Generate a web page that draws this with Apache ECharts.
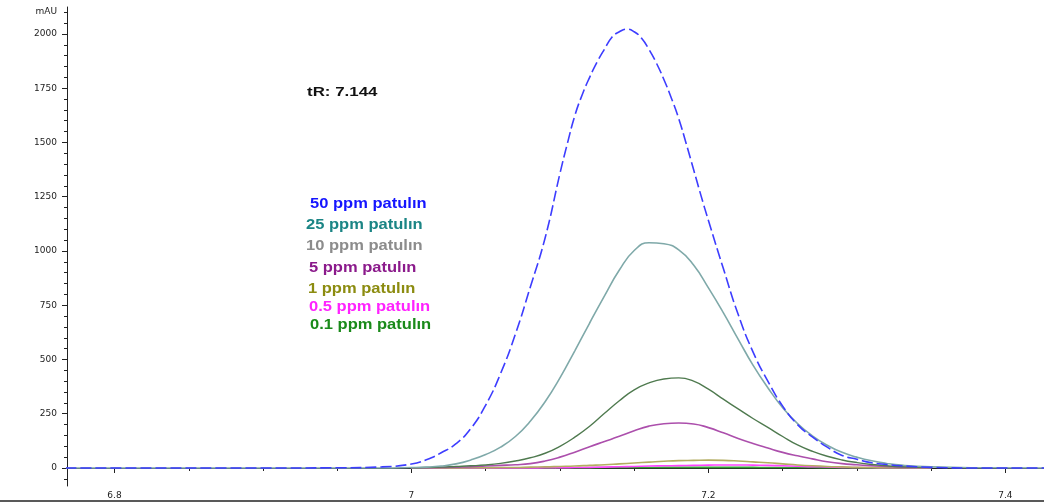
<!DOCTYPE html>
<html>
<head>
<meta charset="utf-8">
<script src="https://cdn.jsdelivr.net/npm/echarts@6/dist/echarts.min.js"></script>
<style>html,body{margin:0;padding:0;background:#fff;}#c{width:1044px;height:504px;}</style>
</head>
<body>
<div id="c"></div>
<script>
// Retention time (min) for the 50 ppm trace (finer sampling around the apex)
const times50 = [6.767, 6.90, 6.95, 6.98, 7.00, 7.01, 7.02, 7.03, 7.04, 7.05, 7.06, 7.07, 7.08, 7.09, 7.10, 7.105, 7.11, 7.115, 7.12, 7.125, 7.13, 7.135, 7.14, 7.145, 7.15, 7.155, 7.16, 7.165, 7.17, 7.175, 7.18, 7.185, 7.19, 7.195, 7.20, 7.21, 7.22, 7.23, 7.24, 7.25, 7.26, 7.27, 7.28, 7.29, 7.30, 7.31, 7.32, 7.33, 7.35, 7.38, 7.426];
// Retention time (min) for the other traces
const times = [6.767, 6.90, 6.95, 6.98, 7.00, 7.01, 7.02, 7.03, 7.04, 7.05, 7.06, 7.07, 7.08, 7.09, 7.10, 7.11, 7.12, 7.13, 7.14, 7.15, 7.16, 7.17, 7.18, 7.19, 7.20, 7.21, 7.22, 7.23, 7.24, 7.25, 7.26, 7.27, 7.28, 7.29, 7.30, 7.31, 7.32, 7.33, 7.35, 7.38, 7.426];
// Absorbance (mAU)
const ppm50 = [0, 0, 1, 5, 18, 38, 70, 112, 182, 290, 435, 617, 833, 1060, 1357, 1495, 1623, 1720, 1800, 1870, 1930, 1985, 2010, 2022, 2010, 1980, 1928, 1865, 1790, 1705, 1610, 1495, 1375, 1255, 1140, 920, 708, 535, 400, 285, 200, 143, 96, 58, 40, 24, 16, 10, 3, 0, 0];
const ppm25 = [0, 0, 0, 0, 2, 4, 9, 19, 37, 62, 96, 145, 215, 305, 415, 540, 668, 793, 912, 1002, 1038, 1033, 1005, 935, 830, 716, 594, 474, 370, 278, 205, 148, 105, 72, 50, 33, 21, 13, 5, 1, 0];
const ppm10 = [null, null, null, null, 1, 2, 4, 7, 10, 14, 21, 32, 47, 68, 100, 142, 192, 252, 310, 360, 392, 410, 415, 400, 363, 317, 272, 228, 187, 145, 106, 77, 54, 37, 25, 16, 10, 6, 2, null, null];
const ppm5 = [null, null, null, null, 0, 1, 2, 4, 6, 9, 12, 15, 20, 32, 50, 73, 98, 122, 146, 172, 193, 204, 207, 203, 186, 162, 136, 113, 92, 72, 56, 42, 29, 20, 15, 10, 7, 4, 2, null, null];
const ppm1 = [null, null, null, null, 0, 0, 0, 0, 1, 1, 2, 2, 4, 5, 7, 9, 12, 15, 19, 23, 27, 31, 34, 35, 36, 35, 32, 28, 24, 19, 14, 10, 7, 5, 3, 2, 1, 1, 0, null, null];
const ppm05 = [null, null, null, null, 0, 0, 0, 0, 0, 0, 0, 0, 0, 1, 1, 2, 3, 4, 6, 7, 9, 10, 11, 12, 13, 14, 14, 13, 12, 10, 8, 6, 5, 3, 2, 2, 1, 1, 0, null, null];
const ppm01 = [null, null, null, null, 0, 0, 0, 0, 0, 0, 0, 0, 0, 0, 1, 1, 1, 2, 2, 2, 2, 3, 3, 3, 3, 3, 3, 3, 2, 2, 2, 2, 1, 1, 1, 0, 0, 0, 0, null, null];

const seriesNames = ['50 ppm patulın', '25 ppm patulın', '10 ppm patulın', '5 ppm patulın', '1 ppm patulın', '0.5 ppm patulın', '0.1 ppm patulın'];
const annotation = 'tR: 7.144';

const xTickLabels = [6.8, 7.0, 7.2, 7.4];
const xMinorTicks = [6.8, 6.85, 6.9, 6.95, 7.0, 7.05, 7.1, 7.15, 7.2, 7.25, 7.3, 7.35, 7.4];
const yTickLabels = [0, 250, 500, 750, 1000, 1250, 1500, 1750, 2000];
const yMinorTicks = [-50, 0, 50, 100, 150, 200, 250, 300, 350, 400, 450, 500, 550, 600, 650, 700, 750, 800, 850, 900, 950, 1000, 1050, 1100, 1150, 1200, 1250, 1300, 1350, 1400, 1450, 1500, 1550, 1600, 1650, 1700, 1750, 1800, 1850, 1900, 1950, 2000, 2050, 2100];

// styles
const lineColors = ['#3d3dff', '#7fa9a9', '#4f7a4f', '#ac4fac', '#b3ad62', '#ff44ff', '#36a036'];
const textColors = ['#1515ff', '#1b8585', '#8c8c8c', '#8b1a8b', '#8c8c10', '#ff22ff', '#1a8a1a'];
const legendPos = [[310, 204.5], [306, 225], [306, 246], [309, 268], [308, 289], [309, 307.5], [310, 325]];

const valueSets = [ppm50, ppm25, ppm10, ppm5, ppm1, ppm05, ppm01];
const pair = (ts, arr) => ts.map((t, i) => [t, arr[i]]);

const series = [];
for (let i = valueSets.length - 1; i >= 0; i--) {
  series.push({
    name: seriesNames[i],
    type: 'line',
    data: pair(i === 0 ? times50 : times, valueSets[i]),
    showSymbol: false,
    smooth: 0.5,
    connectNulls: false,
    lineStyle: { color: lineColors[i], width: i === 2 ? 1.4 : 1.6, type: i === 0 ? [11, 4] : 'solid' },
    itemStyle: { color: lineColors[i] },
    z: 10 - i,
    silent: true
  });
}

const axisColor = '#222';
const labelFont = { fontSize: 9, fontFamily: 'DejaVu Sans', color: '#222' };

const graphics = [];
seriesNames.forEach((n, i) => {
  graphics.push({
    type: 'text', x: legendPos[i][0], y: legendPos[i][1], scaleX: 1.18,
    style: { text: n, x: 0, y: 0, fill: textColors[i], fontSize: 14, fontWeight: 'bold', fontFamily: 'Liberation Sans', verticalAlign: 'middle', align: 'left' },
    z: 100
  });
});
graphics.push({
  type: 'text', x: 307, y: 92, scaleX: 1.3,
  style: { text: annotation, x: 0, y: 0, fill: '#111', fontSize: 13, fontWeight: 'bold', fontFamily: 'Liberation Sans', verticalAlign: 'middle', align: 'left' },
  z: 100
});
graphics.push({
  type: 'line', shape: { x1: 0, y1: 501, x2: 1044, y2: 501 },
  style: { stroke: '#222', lineWidth: 1.5 }, z: 100
});

const chart = echarts.init(document.getElementById('c'), null, { renderer: 'canvas' });
chart.setOption({
  animation: false,
  backgroundColor: '#fff',
  grid: { left: 67, right: 0, top: 7, bottom: 18, containLabel: false, outerBoundsMode: 'none' },
  xAxis: [
    {
      type: 'value', min: 6.768, max: 7.426, position: 'bottom',
      axisLine: { show: true, lineStyle: { color: axisColor, width: 1 } },
      axisTick: { show: true, length: 5, customValues: xTickLabels, lineStyle: { color: axisColor } },
      axisLabel: Object.assign({ customValues: xTickLabels, margin: 5, formatter: v => String(+(+v).toFixed(2)) }, labelFont),
      splitLine: { show: false }
    },
    {
      type: 'value', min: 6.768, max: 7.426, position: 'bottom',
      axisLine: { show: false },
      axisTick: { show: true, length: 3, customValues: xMinorTicks, lineStyle: { color: axisColor } },
      axisLabel: { show: false },
      splitLine: { show: false }
    }
  ],
  yAxis: [
    {
      type: 'value', min: -83, max: 2124, position: 'left',
      name: 'mAU', nameLocation: 'end', nameGap: -5,
      nameTextStyle: { fontSize: 9, fontFamily: 'DejaVu Sans', color: '#222', align: 'right', verticalAlign: 'middle', padding: [0, 10, 0, 0] },
      axisLine: { show: true, lineStyle: { color: axisColor, width: 1 } },
      axisTick: { show: true, length: 5, customValues: yTickLabels, lineStyle: { color: axisColor } },
      axisLabel: Object.assign({ customValues: yTickLabels, margin: 10, formatter: v => String(Math.round(v)) }, labelFont),
      splitLine: { show: false }
    },
    {
      type: 'value', min: -83, max: 2124, position: 'left',
      axisLine: { show: false },
      axisTick: { show: true, length: 3, customValues: yMinorTicks, lineStyle: { color: axisColor } },
      axisLabel: { show: false },
      splitLine: { show: false }
    }
  ],
  series: series,
  graphic: graphics
});
</script>
</body>
</html>
